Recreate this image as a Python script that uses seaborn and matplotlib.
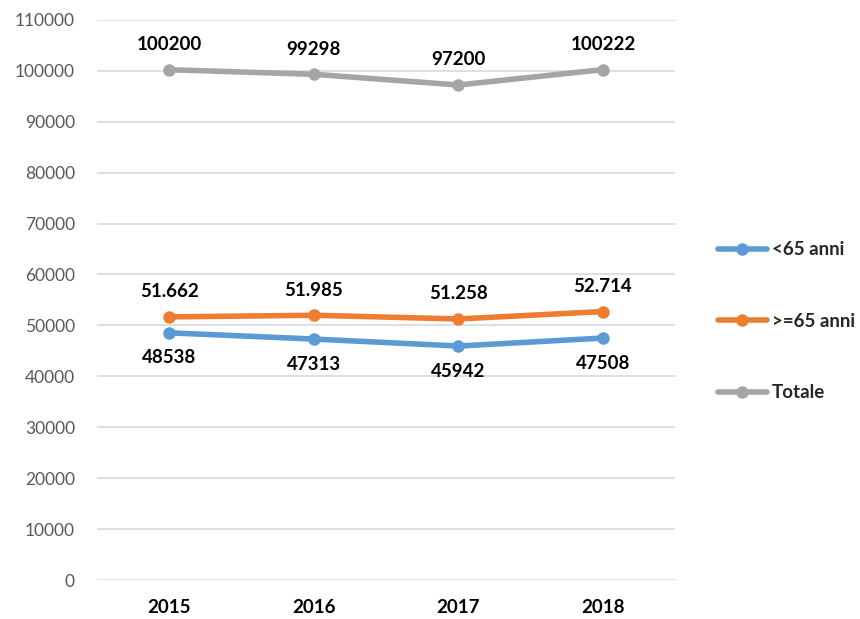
import numpy as np
import pandas as pd
import matplotlib
matplotlib.use("Agg")
import matplotlib.pyplot as plt
import seaborn as sns

# Data
years = ["2015", "2016", "2017", "2018"]
under_65 = [48538, 47313, 45942, 47508]
over_65 = [51662, 51985, 51258, 52714]
totale = [100200, 99298, 97200, 100222]
series_names = ["<65 anni", ">=65 anni", "Totale"]
colors = ["#5B9BD5", "#ED7D31", "#A5A5A5"]

df = pd.DataFrame({
    "Anno": years * 3,
    "Valore": under_65 + over_65 + totale,
    "Serie": [series_names[0]] * 4 + [series_names[1]] * 4 + [series_names[2]] * 4,
})
df["x"] = np.tile(np.arange(len(years)), 3)

sns.set_style("white")
plt.rcParams["font.family"] = ["Lato", "DejaVu Sans"]

fig = plt.figure(figsize=(8.6, 6.19), dpi=100)
ax = fig.add_axes([0.113, 0.063, 0.672, 0.905])

sns.lineplot(data=df, x="x", y="Valore", hue="Serie", palette=colors,
             marker="o", markersize=9, markeredgewidth=0, linewidth=4,
             ax=ax, legend=True)

# data labels
def lab_fmt(v, dotted):
    s = f"{v:,}".replace(",", ".") if dotted else str(v)
    return s

fs = 13.5
for i, v in enumerate(totale):
    ax.annotate(lab_fmt(v, False), (i, v), xytext=(0, 12), textcoords="offset points",
                ha="center", va="bottom", fontsize=fs, fontweight="bold", color="black")
for i, v in enumerate(over_65):
    ax.annotate(lab_fmt(v, True), (i, v), xytext=(0, 12), textcoords="offset points",
                ha="center", va="bottom", fontsize=fs, fontweight="bold", color="black")
for i, v in enumerate(under_65):
    ax.annotate(lab_fmt(v, False), (i, v), xytext=(0, -12), textcoords="offset points",
                ha="center", va="top", fontsize=fs, fontweight="bold", color="black")

ax.set_xlim(-0.5, 3.5)
ax.set_ylim(0, 110000)
ax.set_yticks(np.arange(0, 110001, 10000))
ax.set_yticklabels([str(t) for t in range(0, 110001, 10000)], fontsize=12.5, color="#595959")
ax.set_xticks(range(len(years)))
ax.set_xticklabels(years, fontsize=13.5, fontweight="bold", color="black")
ax.tick_params(axis="y", length=0, pad=16)
ax.tick_params(axis="x", length=0, pad=14)
ax.yaxis.grid(True, color="#D9D9D9", linewidth=1.2)
ax.set_axisbelow(True)
for s in ax.spines.values():
    s.set_visible(False)
ax.set_xlabel("")
ax.set_ylabel("")

handles, labels = ax.get_legend_handles_labels()
ax.get_legend().remove()
leg = fig.legend(handles, labels, loc="center left", bbox_to_anchor=(0.815, 0.481),
                 frameon=False, labelspacing=2.9, handlelength=2.6, handletextpad=0.3,
                 prop={"family": ["Lato", "DejaVu Sans"], "weight": "bold", "size": 13.5})

fig.savefig("out.png", dpi=100)
